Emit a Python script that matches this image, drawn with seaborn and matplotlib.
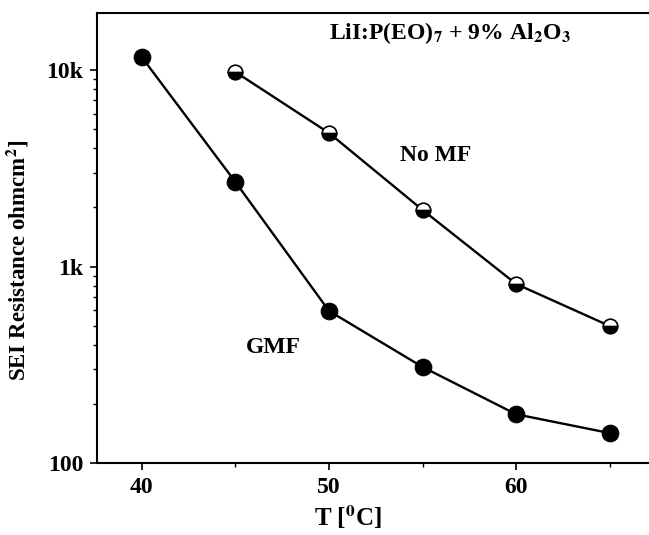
import matplotlib
matplotlib.use("Agg")
import matplotlib.pyplot as plt
import matplotlib.ticker as mticker
import seaborn as sns
import numpy as np

# Data
temp_gmf = [40, 45, 50, 55, 60, 65]
res_gmf = [11600, 2690, 594, 308, 177, 142]
temp_nomf = [45, 50, 55, 60, 65]
res_nomf = [9770, 4780, 1940, 815, 498]
ytick_vals = [100, 1000, 10000]
ytick_labels = ["100", "1k", "10k"]
xtick_vals = [40, 50, 60]

sns.set_theme(style="ticks")
plt.rcParams['font.family'] = ['Liberation Serif', 'DejaVu Serif']
plt.rcParams['mathtext.fontset'] = 'stix'
for k in ['text.color', 'axes.labelcolor', 'xtick.color', 'ytick.color']:
    plt.rcParams[k] = 'black'

fig = plt.figure(figsize=(6.49, 5.35), dpi=100)
ax = fig.add_axes([0.1495, 0.1346, 0.8505, 0.841])

sns.lineplot(x=temp_gmf, y=res_gmf, ax=ax, color='black', linewidth=1.7,
             marker='o', markersize=12, markerfacecolor='black',
             markeredgecolor='black')
sns.lineplot(x=temp_nomf, y=res_nomf, ax=ax, color='black', linewidth=1.7,
             marker='o', markersize=10.5, fillstyle='bottom',
             markerfacecolor='black', markerfacecoloralt='white',
             markeredgecolor='black', markeredgewidth=1.2)

ax.set_yscale('log')
ax.set_ylim(100, 19500)
ax.set_xlim(37.6, 67.1)

ax.set_yticks(ytick_vals)
ax.set_yticklabels(ytick_labels)
ax.yaxis.set_minor_locator(mticker.LogLocator(base=10, subs=np.arange(2, 10)))
ax.yaxis.set_minor_formatter(mticker.NullFormatter())
ax.set_xticks(xtick_vals)
ax.xaxis.set_minor_locator(mticker.MultipleLocator(5))

ax.tick_params(axis='both', which='major', direction='out', length=5, width=1.2,
               labelsize=17, pad=5)
ax.tick_params(axis='both', which='minor', direction='out', length=3, width=1)
for lab in ax.get_xticklabels() + ax.get_yticklabels():
    lab.set_fontweight('bold')

for sp in ['left', 'bottom', 'top']:
    ax.spines[sp].set_linewidth(1.5)
    ax.spines[sp].set_color('black')
ax.spines['right'].set_visible(False)

ax.set_xlabel(r"T [$^{\mathbf{0}}$C]", fontsize=18, fontweight='bold', labelpad=0)
ax.xaxis.set_label_coords(0.455, -0.09)
ax.set_ylabel(r"SEI Resistance ohmcm$^{\mathbf{2}}$]", fontsize=16.5,
              fontweight='bold')
ax.yaxis.set_label_coords(-0.12, 0.45)

ax.text(0.64, 0.955, r"LiI:P(EO)$_{\mathbf{7}}$ + 9% Al$_{\mathbf{2}}$O$_{\mathbf{3}}$",
        transform=ax.transAxes, fontsize=17, fontweight='bold', ha='center', va='center')
ax.text(0.614, 0.684, "No MF", transform=ax.transAxes, fontsize=17,
        fontweight='bold', ha='center', va='center')
ax.text(0.32, 0.256, "GMF", transform=ax.transAxes, fontsize=17,
        fontweight='bold', ha='center', va='center')

fig.savefig("out.png", dpi=100)
